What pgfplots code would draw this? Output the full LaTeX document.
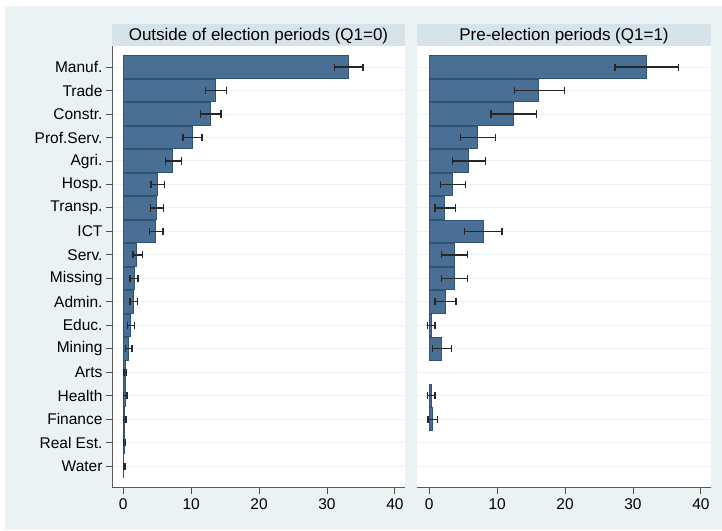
\documentclass[border=0pt]{standalone}
\usepackage{fontspec}
\setmainfont{Liberation Sans}
\usepackage{pgfplots}
\pgfplotsset{compat=1.18}
\usepackage{pgfplotstable}
\definecolor{bg}{HTML}{EAF2F3}
\definecolor{band}{HTML}{D6E4EA}
\definecolor{barfill}{HTML}{4A6F95}
\definecolor{bardraw}{HTML}{2E5373}
\definecolor{gridc}{HTML}{EAF2F3}

\pgfplotstableread{
y v lo hi
18 33.2 31.1 35.3
17 13.55 12.1 15.2
16 12.9 11.4 14.4
15 10.2 8.8 11.6
14 7.3 6.25 8.6
13 5.0 4.1 6.1
12 4.9 4.0 5.95
11 4.77 3.9 5.85
10 1.97 1.43 2.8
9 1.58 1.0 2.16
8 1.53 1.0 2.1
7 1.09 0.6 1.68
6 0.74 0.3 1.3
5 0.3 0.1 0.5
4 0.3 0.05 0.55
3 0.2 0.05 0.4
2 0.15 0.0 0.35
1 0.1 0.0 0.25
}\tabA

\pgfplotstableread{
y v lo hi
18 32.06 27.35 36.75
17 16.1 12.5 19.9
16 12.4 9.1 15.8
15 7.1 4.6 9.8
14 5.8 3.45 8.25
13 3.4 1.6 5.3
12 2.3 0.85 3.9
11 7.95 5.2 10.7
10 3.64 1.8 5.65
9 3.64 1.8 5.65
8 2.35 0.85 3.95
7 0.3 -0.24 0.85
6 1.87 0.45 3.3
4 0.3 -0.25 0.85
3 0.5 -0.2 1.2
}\tabB

\pgfplotsset{panel/.style={
  scale only axis, height=441.7pt,
  xbar, bar width=0.96, bar shift=0pt,
  ymin=0.08, ymax=18.9,
  xtick={0,10,20,30,40},
  ytick={1,...,18},
  ymajorgrids, grid style={gridc, line width=1pt},
  axis background/.style={fill=white},
  axis x line*=bottom, axis y line*=left,
  axis line style={-, draw=black!65, line width=0.9pt},
  tick style={black!70, line width=0.9pt},
  tick align=outside, major tick length=6pt,
  font=\fontsize{15.5}{18}\selectfont,
  /pgf/number format/assume math mode=true,
  xticklabel style={yshift=-1pt},
  every axis title/.style={at={(0.5,1)}, anchor=south, fill=band,
    minimum height=22pt, inner sep=0pt, text depth=0.25ex,
    font=\fontsize{17}{20}\selectfont},
}}
\pgfplotsset{barstyle/.style={fill=barfill, draw=bardraw, line width=1pt,
  error bars/.cd, x dir=both, x explicit, error mark=|,
  error bar style={line width=1.3pt, black!85},
  error mark options={line width=1.3pt, mark size=3.6pt, black!85}}}

\begin{document}
\begin{tikzpicture}
\fill[white] (0,0) rectangle (722pt,530pt);
\fill[bg] (5pt,0) rectangle (722pt,524pt);

\begin{axis}[panel, at={(112pt,42.3pt)}, anchor=south west, width=293pt,
  xmin=-1.66, xmax=41.49,
  title={Outside of election periods (Q1=0)},
  title style={minimum width=293pt},
  yticklabels={Water, Real Est., Finance, Health, Arts, Mining, Educ., Admin., Missing, Serv., ICT, Transp., Hosp., Agri., Prof.Serv., Constr., Trade, Manuf.}]
\addplot[barstyle]
  table[x=v, y=y, x error plus expr=\thisrow{hi}-\thisrow{v},
        x error minus expr=\thisrow{v}-\thisrow{lo}] {\tabA};
\end{axis}

\begin{axis}[panel, at={(417pt,42.3pt)}, anchor=south west, width=294pt,
  xmin=-1.81, xmax=41.49,
  title={Pre-election periods (Q1=1)},
  title style={minimum width=294pt},
  y axis line style={draw=none}, ytick style={draw=none}, yticklabels={}]
\addplot[barstyle]
  table[x=v, y=y, x error plus expr=\thisrow{hi}-\thisrow{v},
        x error minus expr=\thisrow{v}-\thisrow{lo}] {\tabB};
\end{axis}
\end{tikzpicture}
\end{document}
